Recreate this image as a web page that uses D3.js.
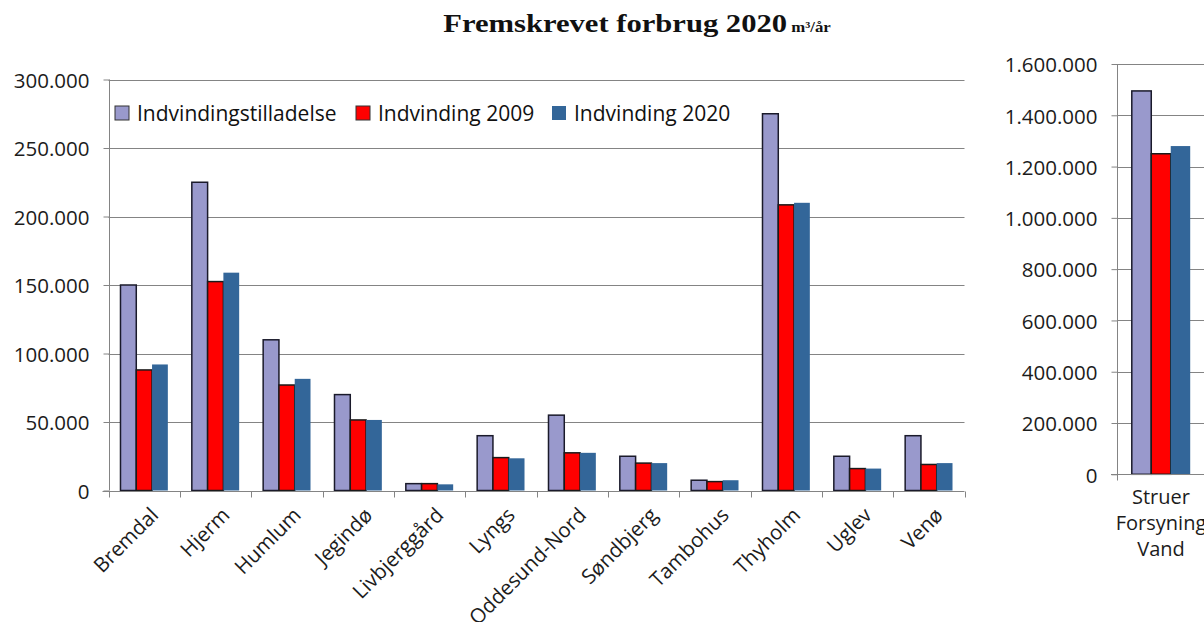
<!DOCTYPE html>
<html>
<head>
<meta charset="utf-8">
<script src="https://cdn.jsdelivr.net/npm/d3@7/dist/d3.min.js"></script>
<style>
  html, body { margin: 0; padding: 0; background: #fff; }
  svg { display: block; }
  text { font-family: "Open Sans", "DejaVu Sans", sans-serif; fill: #1c1c1c; }
</style>
</head>
<body>
<svg id="chart" width="1204" height="622"></svg>
<script>
// Waterworks (m³ per year)
const categories = ["Bremdal", "Hjerm", "Humlum", "Jegindø", "Livbjerggård", "Lyngs",
  "Oddesund-Nord", "Søndbjerg", "Tambohus", "Thyholm", "Uglev", "Venø"];
const seriesNames = ["Indvindingstilladelse", "Indvinding 2009", "Indvinding 2020"];
const tilladelse = [150000, 225000, 110000, 70000, 5000, 40000, 55000, 25000, 7500, 275000, 25000, 40000];
const indv2009   = [88000, 152500, 77000, 51500, 5000, 24000, 27500, 20000, 6500, 208500, 16000, 19000];
const indv2020   = [92000, 159000, 81500, 51500, 4500, 23500, 27500, 20000, 7500, 210000, 16000, 20000];

// Struer Forsyning Vand, on its own scale
const bigCategory = ["Struer Forsyning Vand"];
const bigTilladelse = [1495000];
const big2009 = [1250000];
const big2020 = [1280000];

const leftTicks = [0, 50000, 100000, 150000, 200000, 250000, 300000];
const rightTicks = [0, 200000, 400000, 600000, 800000, 1000000, 1200000, 1400000, 1600000];

const colors = ["#9999cc", "#ff0000", "#336699"];
const strokes = ["#1a1a2a", "#1a1a1a", "none"];
const gridColor = "#848484";

const fmt = d3.formatLocale({ decimal: ",", thousands: ".", grouping: [3], currency: ["", ""] }).format(",d");

const svg = d3.select("#chart");

// Title
const title = svg.append("g").attr("transform", "translate(637,32) scale(1.2,1)");
const tt = title.append("text")
  .attr("text-anchor", "middle")
  .style("font-family", "'Liberation Serif', 'Times New Roman', serif")
  .style("font-weight", "bold")
  .style("font-size", "25.5px")
  .style("fill", "#111");
tt.append("tspan").text("Fremskrevet forbrug 2020");
tt.append("tspan").style("font-size", "14px").text(" m³/år");

function drawPanel(opts) {
  const { cats, values, x0, x1, yBottom, yTop, maxVal, ticks, labelX } = opts;
  const g = svg.append("g");
  const x = d3.scaleBand().domain(cats).range([x0, x1]).paddingInner(0).paddingOuter(0);
  const xs = d3.scaleBand().domain(d3.range(3)).range([0, x.bandwidth()]).paddingInner(0).paddingOuter(0.76);
  const y = d3.scaleLinear().domain([0, maxVal]).range([yBottom, yTop]);

  // gridlines
  g.append("g").selectAll("line").data(ticks.filter(t => t > 0)).join("line")
    .attr("x1", x0).attr("x2", x1)
    .attr("y1", d => Math.round(y(d)) + 0.5).attr("y2", d => Math.round(y(d)) + 0.5)
    .attr("stroke", gridColor).attr("stroke-width", 1);

  // y axis
  const yAxis = g.append("g").attr("transform", `translate(${Math.round(x0) + 0.5},0)`)
    .call(d3.axisLeft(y).tickValues(ticks).tickFormat(fmt).tickSize(6).tickPadding(14));
  yAxis.select(".domain").attr("stroke", gridColor).attr("d", `M0,${y(0)}V${y(maxVal)}`);
  yAxis.selectAll(".tick line").attr("stroke", gridColor);
  yAxis.selectAll(".tick text").style("font-size", "20.5px").attr("fill", "#222")
    .attr("font-family", null).attr("dy", "0.38em");

  // bars
  const groups = g.append("g").selectAll("g").data(cats).join("g")
    .attr("transform", d => `translate(${x(d)},0)`);
  groups.selectAll("rect").data((d, i) => values.map((s, k) => ({ k, v: s[i] }))).join("rect")
    .attr("x", d => xs(d.k))
    .attr("width", xs.bandwidth())
    .attr("y", d => y(d.v))
    .attr("height", d => y(0) - y(d.v))
    .attr("fill", d => colors[d.k])
    .attr("stroke", d => strokes[d.k])
    .attr("stroke-width", 1.5);

  // category axis
  const xAxisG = g.append("g").attr("transform", `translate(0,${Math.round(y(0)) + 0.5})`);
  xAxisG.append("line").attr("x1", x0 - 6).attr("x2", x1).attr("stroke", gridColor);
  const bounds = cats.map(c => x(c)).concat([x1]);
  xAxisG.selectAll("line.tk").data(bounds).join("line").attr("class", "tk")
    .attr("x1", d => Math.round(d) + 0.5).attr("x2", d => Math.round(d) + 0.5)
    .attr("y1", 0).attr("y2", 6).attr("stroke", gridColor);
  labelX(g, x, y);
  return { x, y };
}

drawPanel({
  cats: categories,
  values: [tilladelse, indv2009, indv2020],
  x0: 108.5, x1: 964.5, yBottom: 490.5, yTop: 79.5, maxVal: 300000, ticks: leftTicks,
  labelX: (g, x) => {
    g.append("g").selectAll("text").data(categories).join("text")
      .attr("transform", d => `translate(${x(d) + x.bandwidth() / 2 + 5},506) rotate(-45)`)
      .attr("text-anchor", "end")
      .attr("dy", "0.72em")
      .style("font-size", "20.5px")
      .text(d => d);
  }
});

drawPanel({
  cats: bigCategory,
  values: [bigTilladelse, big2009, big2020],
  x0: 1117, x1: 1205, yBottom: 474.3, yTop: 64, maxVal: 1600000, ticks: rightTicks,
  labelX: (g, x) => {
    const cx = x(bigCategory[0]) + x.bandwidth() / 2;
    const t = g.append("text").attr("text-anchor", "middle").style("font-size", "20px");
    ["Struer", "Forsyning", "Vand"].forEach((w, i) => {
      t.append("tspan").attr("x", cx).attr("y", 504 + i * 26).text(w);
    });
  }
});

// Legend
const legendX = [115, 356, 552];
const legend = svg.append("g");
seriesNames.forEach((name, i) => {
  legend.append("rect")
    .attr("x", legendX[i]).attr("y", 106).attr("width", 14).attr("height", 14)
    .attr("fill", colors[i]).attr("stroke", i < 2 ? "#333" : "none").attr("stroke-width", 1);
  legend.append("text")
    .attr("x", legendX[i] + 22).attr("y", 121)
    .style("font-size", "21px").style("fill", "#111")
    .text(name);
});
</script>
</body>
</html>
